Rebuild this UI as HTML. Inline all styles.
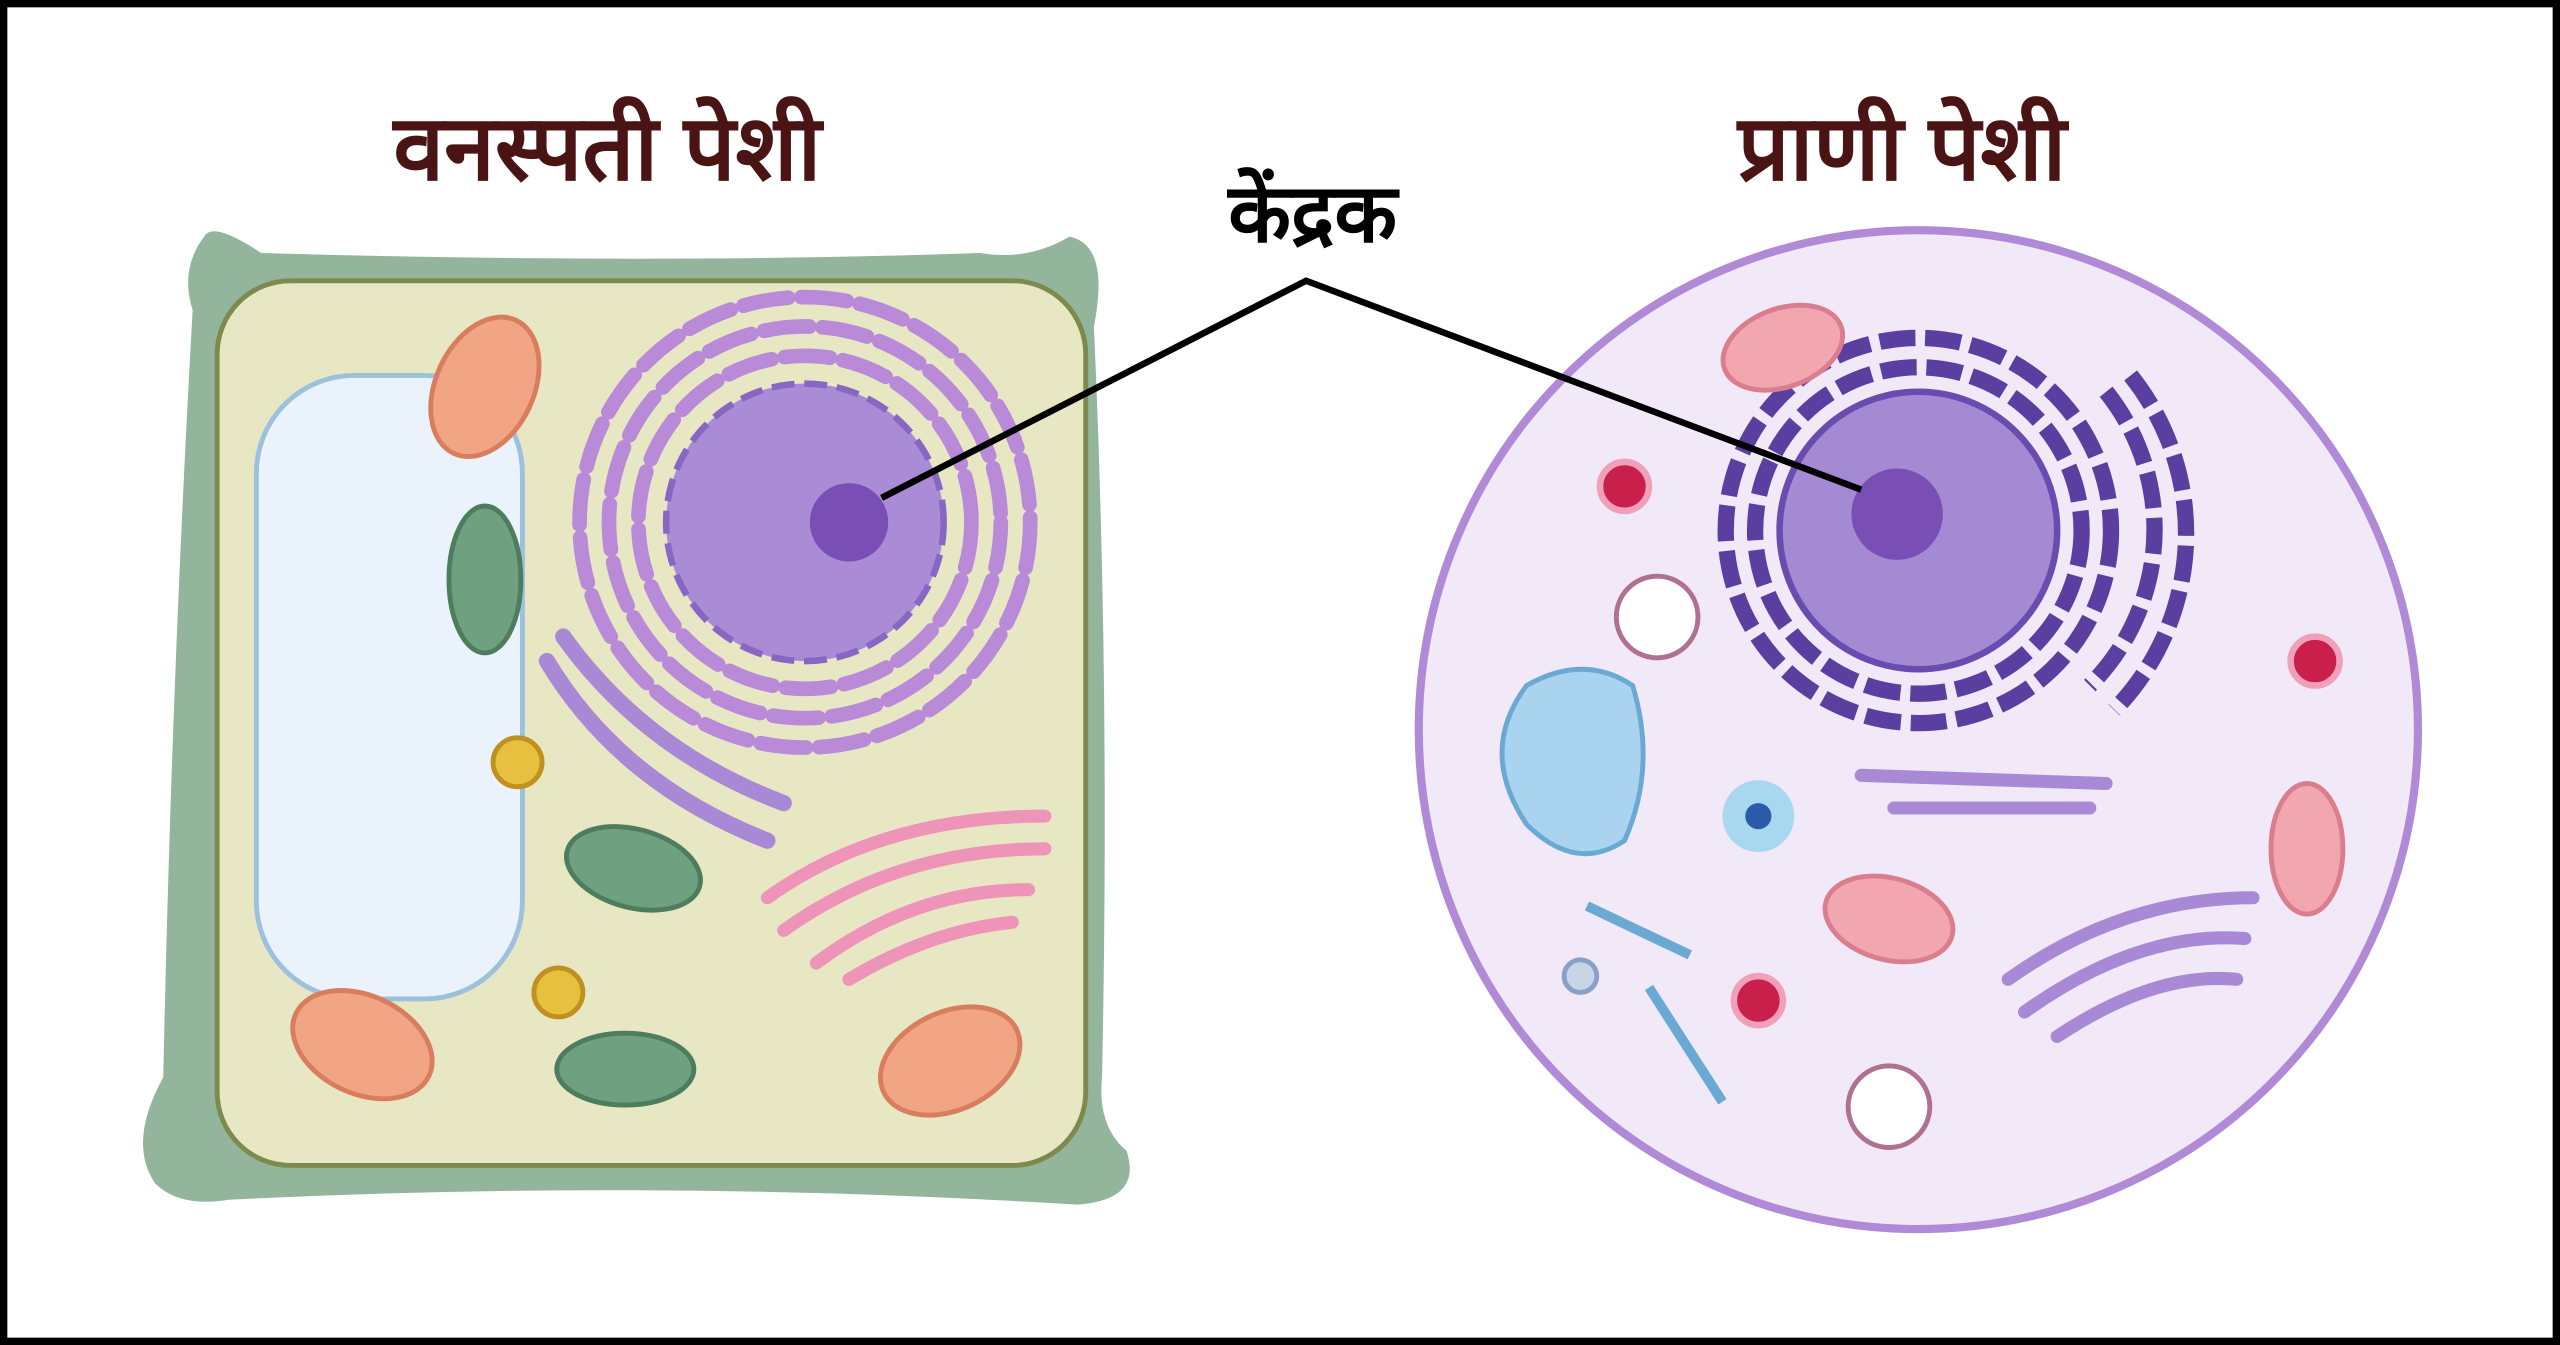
<!DOCTYPE html>
<html><head><meta charset="utf-8"><style>
html,body{margin:0;padding:0;background:#fff;}
svg{display:block;}
text{font-family:"Liberation Sans","Noto Sans CJK SC",sans-serif;font-weight:bold;}
</style></head><body>
<svg width="2560" height="1345" viewBox="0 0 1568 824" preserveAspectRatio="none" xmlns="http://www.w3.org/2000/svg">
<rect x="0" y="0" width="1568" height="824" fill="#fff"/>
<rect x="2" y="2" width="1564" height="820" fill="none" stroke="#000" stroke-width="5"/>

<!-- Plant cell -->
<path d="M125 145 Q110 165 118 190 Q105 420 100 660 Q78 700 95 725 Q110 740 140 735 Q400 722 660 738 Q700 735 690 705 Q672 690 675 660 Q680 420 670 200 Q680 150 655 145 Q630 160 600 155 Q400 162 160 155 Q130 135 125 145Z" fill="#93b59c"/>
<rect x="133" y="172" width="532" height="542" rx="45" fill="#e7e7c3" stroke="#7d8a4d" stroke-width="3"/>
<rect x="157" y="230" width="163" height="382" rx="60" fill="#eaf3fb" stroke="#9dc1dd" stroke-width="3"/>
<g fill="none" stroke="#b88ad8" stroke-width="9" stroke-dasharray="28 8" stroke-linecap="round">
<circle cx="493" cy="320" r="102"/>
<circle cx="493" cy="320" r="120"/>
<circle cx="493" cy="320" r="138"/>
</g>
<circle cx="493" cy="320" r="85" fill="#a98bd6" stroke="#8a66c4" stroke-width="4" stroke-dasharray="14 6"/>
<circle cx="520" cy="320" r="24" fill="#7a4fb5"/>
<g fill="none" stroke="#a989d6" stroke-width="10" stroke-linecap="round">
<path d="M335 405 Q380 480 470 515"/><path d="M345 390 Q395 460 480 492"/>
</g>
<g fill="none" stroke="#ee94b8" stroke-width="8" stroke-linecap="round">
<path d="M470 550 Q540 500 640 500"/><path d="M480 570 Q550 520 640 520"/><path d="M500 590 Q560 545 630 545"/><path d="M520 600 Q570 570 620 565"/>
</g>
<g fill="#f2a585" stroke="#d97d5f" stroke-width="3">
<ellipse cx="297" cy="237" rx="30" ry="45" transform="rotate(25 297 237)"/>
<ellipse cx="222" cy="640" rx="45" ry="30" transform="rotate(25 222 640)"/>
<ellipse cx="582" cy="650" rx="45" ry="30" transform="rotate(-25 582 650)"/>
</g>
<g fill="#6fa07f" stroke="#4e7d5e" stroke-width="3">
<ellipse cx="297" cy="355" rx="22" ry="45"/>
<ellipse cx="388" cy="532" rx="42" ry="24" transform="rotate(15 388 532)"/>
<ellipse cx="383" cy="655" rx="42" ry="22"/>
</g>
<g fill="#e8c040" stroke="#c09020" stroke-width="3">
<circle cx="317" cy="467" r="15"/><circle cx="342" cy="608" r="15"/>
</g>

<!-- Animal cell -->
<circle cx="1175" cy="447" r="306" fill="#f1e9f7" stroke="#b08ad6" stroke-width="5"/>
<g fill="none" stroke="#5a3ea0" stroke-width="10" stroke-dasharray="22 6">
<circle cx="1175" cy="325" r="100"/>
<circle cx="1175" cy="325" r="118"/>
<path d="M1290 240 A135 135 0 0 1 1280 420"/>
<path d="M1305 230 A155 155 0 0 1 1295 435"/>
</g>
<circle cx="1175" cy="325" r="85" fill="#a48ad2" stroke="#6a4cb0" stroke-width="4"/>
<circle cx="1162" cy="315" r="28" fill="#7a4fb5"/>
<g fill="none" stroke="#a989d6" stroke-width="8" stroke-linecap="round">
<path d="M1230 600 Q1300 550 1380 550"/><path d="M1240 620 Q1310 570 1375 575"/><path d="M1260 635 Q1320 595 1370 600"/>
<path d="M1140 475 L1290 480"/><path d="M1160 495 L1280 495"/>
</g>
<g fill="#f2a6b0" stroke="#d97d8f" stroke-width="3">
<ellipse cx="1092" cy="213" rx="38" ry="24" transform="rotate(-20 1092 213)"/>
<ellipse cx="1157" cy="563" rx="40" ry="25" transform="rotate(15 1157 563)"/>
<ellipse cx="1413" cy="520" rx="22" ry="40"/>
</g>
<path d="M935 420 Q970 400 1000 420 Q1015 470 995 515 Q965 535 935 505 Q905 460 935 420Z" fill="#a9d3ee" stroke="#6aa9d4" stroke-width="3"/>
<g fill="#fff" stroke="#b07090" stroke-width="3">
<circle cx="1015" cy="378" r="25"/><circle cx="1157" cy="678" r="25"/>
</g>
<g fill="#c8204a" stroke="#f0a0b8" stroke-width="4">
<circle cx="995" cy="298" r="15"/><circle cx="1418" cy="405" r="15"/><circle cx="1077" cy="613" r="15"/>
</g>
<circle cx="1077" cy="500" r="22" fill="#a8d8f0"/>
<circle cx="1077" cy="500" r="8" fill="#2a5aa8"/>
<g stroke="#6aa9d4" stroke-width="6"><line x1="972" y1="555" x2="1035" y2="585"/><line x1="1010" y1="605" x2="1055" y2="675"/></g>
<circle cx="968" cy="598" r="10" fill="#c8d4e8" stroke="#8aa0c8" stroke-width="3"/>

<polyline points="540,305 800,172 1140,300" fill="none" stroke="#000" stroke-width="4"/>

<text x="372" y="110" font-size="56" fill="#4a1414" text-anchor="middle">वनस्पती पेशी</text>
<text x="1165" y="110" font-size="56" fill="#4a1414" text-anchor="middle">प्राणी पेशी</text>
<text x="804" y="148" font-size="50" fill="#000" text-anchor="middle">केंद्रक</text>
</svg>
</body></html>
